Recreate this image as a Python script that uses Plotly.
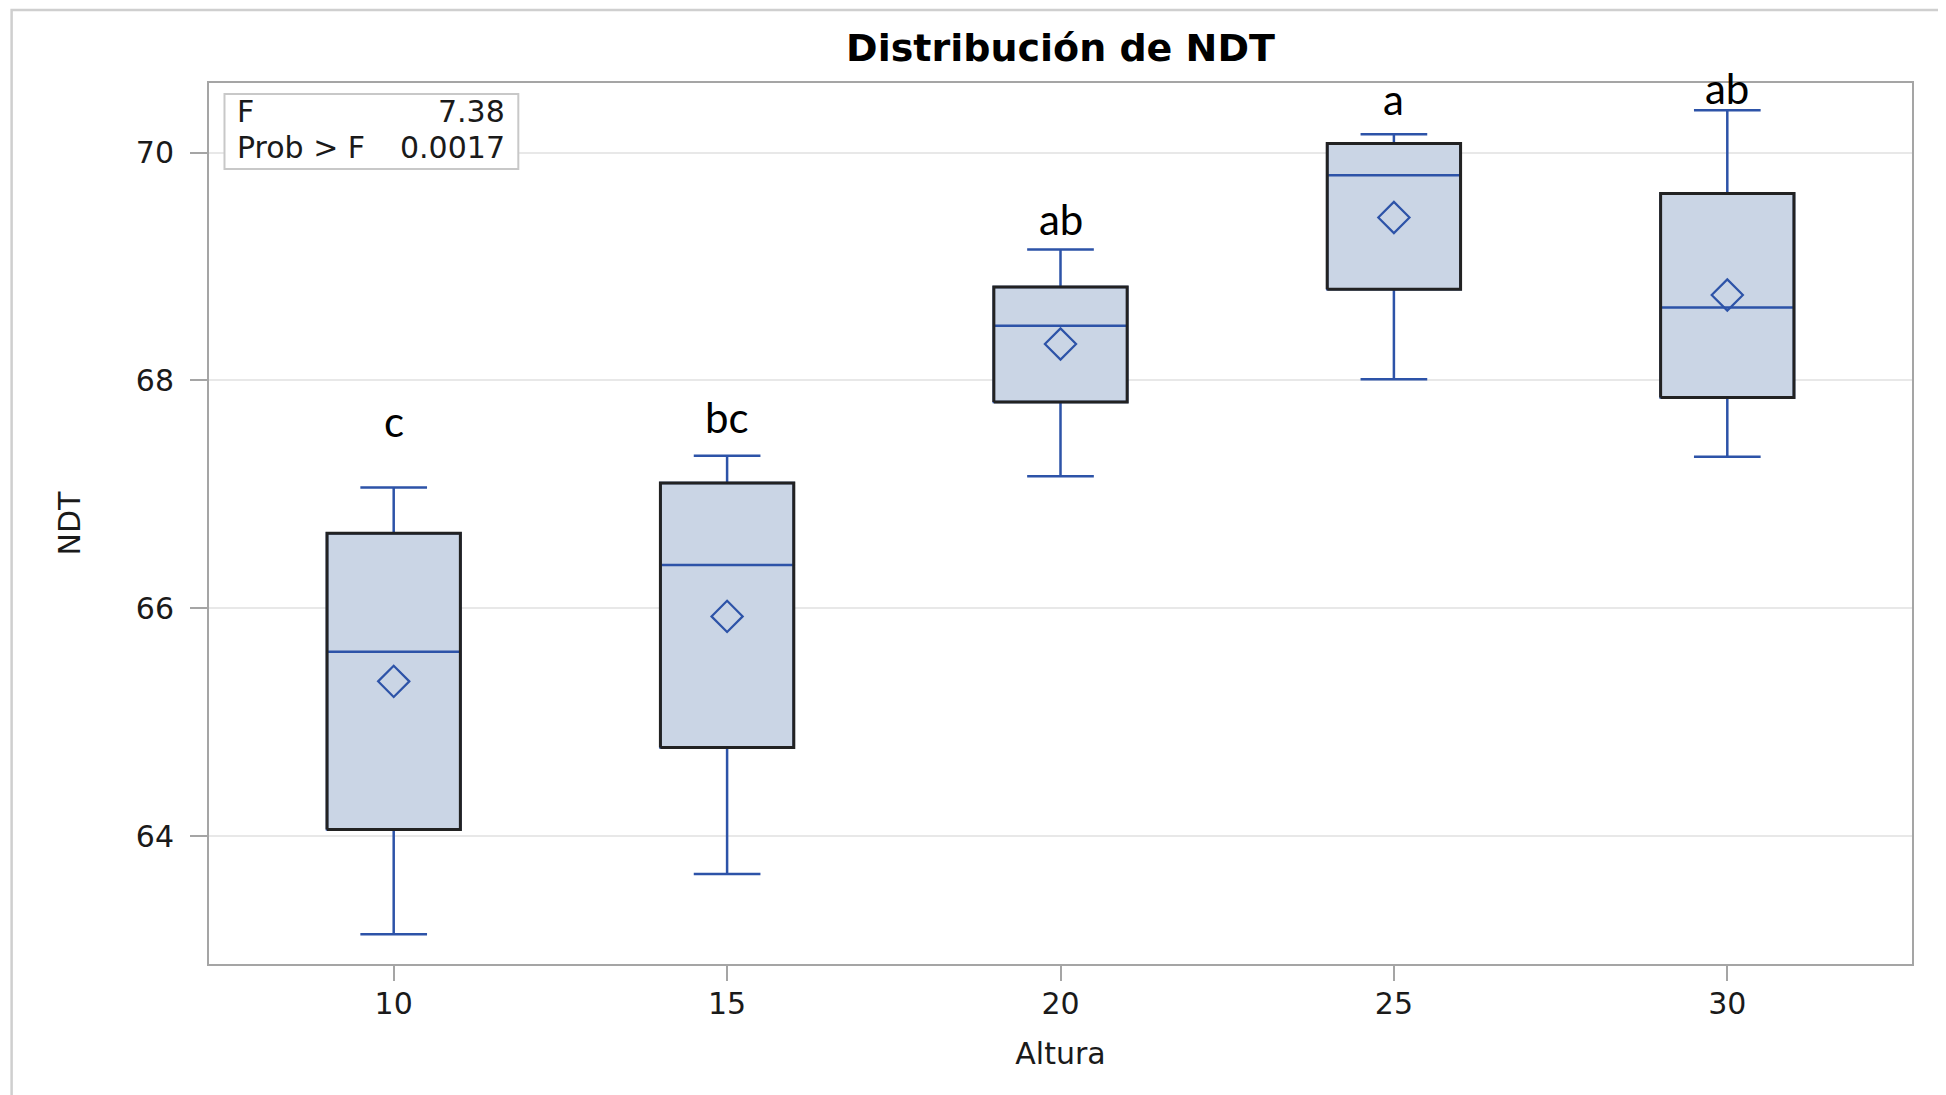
import plotly.graph_objects as go

# ---------------- data ----------------
altura = [10, 15, 20, 25, 30]
lower_whisker = [63.14, 63.67, 67.16, 68.01, 67.33]
q1 = [64.06, 64.78, 67.81, 68.80, 67.85]
median = [65.62, 66.38, 68.48, 69.80, 68.64]
q3 = [66.66, 67.10, 68.82, 70.08, 69.64]
upper_whisker = [67.06, 67.34, 69.15, 70.16, 70.37]
mean = [65.36, 65.93, 68.32, 69.43, 68.75]
letters = ["c", "bc", "ab", "a", "ab"]
stat_labels = ["F", "Prob > F"]
stat_values = ["7.38", "0.0017"]
y_ticks = [64, 66, 68, 70]

# ---------------- style ----------------
BLUE = "#2d53a8"
FILL = "#cad5e5"
BOX_W = 2.0
letter_shift_px = [40, 12, 3, 8, -5]  # vertical placement of letters above whiskers

OFF = 8  # page body margin
FW, FH = 1946 - OFF, 1095 - OFF

fig = go.Figure()

fig.add_trace(go.Box(
    x=altura, q1=q1, median=median, q3=q3,
    lowerfence=lower_whisker, upperfence=upper_whisker,
    width=BOX_W, whiskerwidth=0.5, boxpoints=False,
    fillcolor=FILL, line=dict(color=BLUE, width=2.5),
    showlegend=False, hoverinfo="skip",
))

# black box outlines
ox, oy = [], []
for xc, a, b in zip(altura, q1, q3):
    h = BOX_W / 2
    ox += [xc - h, xc + h, xc + h, xc - h, xc - h, None]
    oy += [a, a, b, b, a, None]
fig.add_trace(go.Scatter(x=ox, y=oy, mode="lines",
                         line=dict(color="#222222", width=3),
                         showlegend=False, hoverinfo="skip"))

# means
fig.add_trace(go.Scatter(x=altura, y=mean, mode="markers",
                         marker=dict(symbol="diamond-open", size=24,
                                     color=BLUE, line=dict(width=2.2, color=BLUE)),
                         showlegend=False, hoverinfo="skip"))

# group letters
for xc, uw, lt, sh in zip(altura, upper_whisker, letters, letter_shift_px):
    fig.add_annotation(x=xc, y=uw, text=lt, showarrow=False, yanchor="bottom",
                       yshift=sh, font=dict(family="Lato", size=42, color="black"))

# plot area geometry in page pixels
L, R, T, B = 208.5, 1912.5, 83, 964
W, H = R - L, B - T
def px(x):
    return (x - L) / W
def py(y):
    return (B - y) / H

# stats inset
fig.add_shape(type="rect", xref="paper", yref="paper",
              x0=px(224), x1=px(518), y0=py(169), y1=py(94),
              line=dict(color="#c8c8c8", width=2), fillcolor="white", layer="above")
for i, (lab, val) in enumerate(zip(stat_labels, stat_values)):
    yc = py(111 + i * 36.5)
    fig.add_annotation(xref="paper", yref="paper", x=px(235), y=yc, text=lab,
                       showarrow=False, xanchor="left", yanchor="middle",
                       font=dict(family="DejaVu Sans", size=30, color="#1a1a1a"))
    fig.add_annotation(xref="paper", yref="paper", x=px(507), y=yc, text=val,
                       showarrow=False, xanchor="right", yanchor="middle",
                       font=dict(family="DejaVu Sans", size=30, color="#1a1a1a"))

# outer frame
fig.add_shape(type="rect", xref="paper", yref="paper",
              x0=px(11), x1=px(1941), y0=py(1110), y1=py(10),
              line=dict(color="#cfcfcf", width=2.5), fillcolor="rgba(0,0,0,0)", layer="above")

fig.update_layout(
    width=FW, height=FH,
    margin=dict(l=L - OFF, r=FW - (R - OFF), t=T - OFF, b=FH - (B - OFF)),
    paper_bgcolor="white", plot_bgcolor="white",
    title=dict(text="<b>Distribución de NDT</b>", x=0.5, xref="paper",
               y=1 - (48 - OFF) / FH, yanchor="middle", xanchor="center",
               font=dict(family="DejaVu Sans", size=38, color="black")),
    font=dict(family="DejaVu Sans", color="#1a1a1a"),
)
fig.update_xaxes(
    range=[7.23, 32.77], tickvals=altura, ticktext=[str(a) for a in altura],
    showgrid=False, zeroline=False,
    showline=True, linecolor="#a5a5a5", linewidth=2, mirror=True,
    ticks="outside", ticklen=15, tickcolor="#a5a5a5", tickwidth=1.5,
    tickfont=dict(size=30, color="#1a1a1a"), ticklabelstandoff=-3,
    title=dict(text="Altura", font=dict(size=30, color="#1a1a1a"), standoff=23),
)
fig.update_yaxes(
    range=[62.88, 70.61], tickvals=y_ticks,
    showgrid=True, gridcolor="#e8e8e8", gridwidth=1.5, zeroline=False,
    showline=True, linecolor="#a5a5a5", linewidth=2, mirror=True,
    ticks="outside", ticklen=17, tickcolor="#a5a5a5", tickwidth=1.5,
    tickfont=dict(size=30, color="#1a1a1a"), ticklabelstandoff=10,
    title=dict(text="NDT", font=dict(size=30, color="#1a1a1a"), standoff=46),
)

fig.write_html("out.html")
